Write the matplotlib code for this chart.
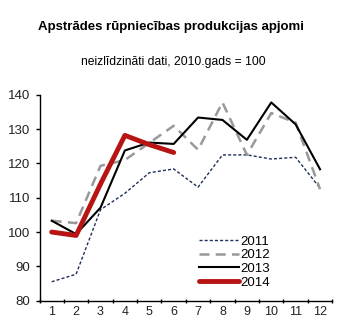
import numpy as np
import matplotlib.pyplot as plt

plt.rcParams["font.family"] = ["Liberation Sans", "DejaVu Sans"]

# --- data ---
months = list(range(1, 13))
y2011 = [85.5, 87.7, 106.5, 111.3, 117.3, 118.4, 113.1, 122.5, 122.5, 121.3, 121.8, 112.8]
y2012 = [103.3, 102.6, 119.3, 121.0, 126.0, 131.0, 124.0, 137.8, 122.5, 134.7, 131.9, 112.5]
y2013 = [103.3, 99.4, 107.1, 123.8, 126.1, 125.7, 133.4, 132.7, 126.9, 137.8, 131.4, 118.3]
months_2014 = [1, 2, 3, 4, 5, 6]
y2014 = [100.0, 99.0, 114.0, 128.2, 125.5, 123.2]

title = "Apstrādes rūpniecības produkcijas apjomi"
subtitle = "neizlīdzināti dati, 2010.gads = 100"

fig = plt.figure(figsize=(3.42, 3.25), dpi=100)
ax = fig.add_axes([0.1155, 0.075, 0.856, 0.633])

ax.plot(months, y2011, color="#1f2f5a", linestyle=(0, (2.2, 1.5)), linewidth=1.0, label="2011")
ax.plot(months, y2012, color="#999999", linestyle=(0, (4, 2.5)), linewidth=1.8, label="2012")
ax.plot(months, y2013, color="black", linestyle="-", linewidth=1.5, label="2013")
ax.plot(months_2014, y2014, color="#b81414", linestyle="-", linewidth=3.5,
        solid_capstyle="round", label="2014")

ax.set_xlim(0.5, 12.5)
ax.set_ylim(80, 140)
ax.set_yticks(np.arange(80, 141, 10))
ax.set_xticks(months)
ax.set_xticks(np.arange(0.5, 13, 1), minor=True)
ax.tick_params(axis="x", which="major", length=0, labelsize=9, pad=4)
ax.tick_params(axis="x", which="minor", length=3, direction="inout", width=1)
ax.tick_params(axis="y", which="major", length=3, direction="out", width=1, labelsize=9.5)
ax.tick_params(axis="both", colors="black", labelcolor="#222222")

for side in ["top", "right"]:
    ax.spines[side].set_visible(False)
for side in ["left", "bottom"]:
    ax.spines[side].set_linewidth(1.0)

leg = ax.legend(loc="lower right", bbox_to_anchor=(0.815, 0.02), frameon=False,
                fontsize=9.5, handlelength=3.0, handletextpad=0.15,
                labelspacing=0.1, borderaxespad=0.2)

fig.text(0.5, 0.917, title, ha="center", va="center", fontsize=9.5, fontweight="bold")
fig.text(0.508, 0.809, subtitle, ha="center", va="center", fontsize=8.7)

fig.savefig("out.png", dpi=100)
